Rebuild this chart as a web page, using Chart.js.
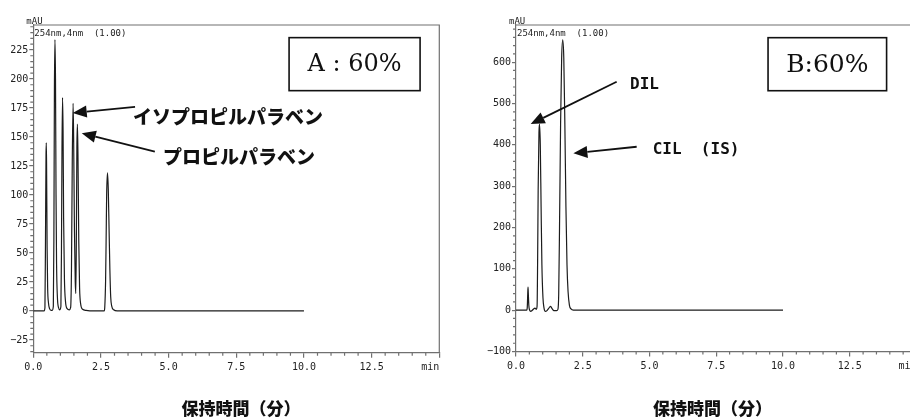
<!DOCTYPE html>
<html>
<head>
<meta charset="utf-8">
<script src="https://cdn.jsdelivr.net/npm/chart.js@4/dist/chart.umd.min.js"></script>
<style>
html, body { margin:0; padding:0; background:#fff; overflow:hidden; width:910px; height:419px; }
canvas { position:absolute; top:0; }
</style>
</head>
<body>
<canvas id="chartA" width="455" height="419" style="left:0"></canvas>
<canvas id="chartB" width="475" height="419" style="left:455px"></canvas>
<script>
// chromatogram A (parabens): time (min) / signal (mAU)
const timeA = [0.00, 0.40, 0.43, 0.45, 0.47, 0.48, 0.49, 0.51, 0.53, 0.56, 0.60, 0.66, 0.70,
  0.74, 0.76, 0.78, 0.80, 0.82, 0.84, 0.86, 0.89, 0.93, 0.98,
  1.02, 1.04, 1.06, 1.08, 1.10, 1.12, 1.15, 1.19, 1.25, 1.33,
  1.38, 1.41, 1.44, 1.47, 1.49, 1.52, 1.55, 1.57, 1.59, 1.61, 1.63, 1.65, 1.68, 1.71, 1.75, 1.82, 1.95, 2.20,
  2.62, 2.64, 2.67, 2.69, 2.71, 2.74, 2.77, 2.80, 2.83, 2.86, 2.90, 2.97, 3.10, 10.00];
const mauA = [0, 0, 3, 60, 135, 145, 128, 55, 20, 7, 2, 0.5, 0.5,
  4, 60, 190, 234, 200, 100, 40, 12, 3, 1,
  4, 50, 140, 184, 155, 80, 28, 8, 2, 1,
  3, 35, 130, 179, 150, 70, 25, 15, 60, 140, 161, 135, 60, 20, 6, 1.5, 0.5, 0,
  0, 3, 25, 60, 100, 119, 105, 70, 35, 12, 4, 1, 0, 0];

// chromatogram B (DIL / CIL)
const timeB = [0.00, 0.40, 0.42, 0.44, 0.45, 0.46, 0.48, 0.51, 0.55, 0.60, 0.66, 0.71, 0.76,
  0.79, 0.81, 0.83, 0.86, 0.88, 0.91, 0.94, 0.97, 1.01, 1.05,
  1.10, 1.16, 1.22, 1.29, 1.35, 1.42, 1.52,
  1.57, 1.60, 1.63, 1.67, 1.71, 1.75, 1.79, 1.83, 1.87, 1.91, 1.95, 2.00, 2.06, 2.15, 10.00];
const mauB = [0, 0, 5, 40, 56, 42, 12, 0, -3, -1, 3, 5, 2,
  10, 120, 290, 430, 450, 400, 250, 110, 30, 5,
  -3, -1, 4, 9, 4, -1, -1,
  2, 40, 200, 450, 610, 654, 610, 450, 250, 110, 45, 12, 3, 0, 0];

const xTicks = [0, 2.5, 5, 7.5, 10, 12.5, 15];
const yTicksA = [-25, 0, 25, 50, 75, 100, 125, 150, 175, 200, 225];
const yTicksB = [-100, 0, 100, 200, 300, 400, 500, 600];

const axisColor = '#707070';
const inkColor = '#1c1c1c';
const mono = '"DejaVu Sans Mono", monospace';
const jp = '"Noto Sans CJK JP", sans-serif';

function toPoints(t, v) {
  return t.map((x, i) => ({ x: x, y: v[i] }));
}

function fmtY(v) {
  return v < 0 ? '\u2212' + Math.abs(v) : String(v);
}

function drawArrow(ctx, x1, y1, x2, y2) {
  const head = 14, wide = 12;
  const ang = Math.atan2(y2 - y1, x2 - x1);
  const bx = x2 - head * Math.cos(ang), by = y2 - head * Math.sin(ang);
  ctx.beginPath();
  ctx.moveTo(x1, y1);
  ctx.lineTo(bx, by);
  ctx.stroke();
  ctx.beginPath();
  ctx.moveTo(x2, y2);
  ctx.lineTo(bx + wide / 2 * Math.sin(ang), by - wide / 2 * Math.cos(ang));
  ctx.lineTo(bx - wide / 2 * Math.sin(ang), by + wide / 2 * Math.cos(ang));
  ctx.closePath();
  ctx.fill();
}

// frame, minor ticks and all the annotation texts
const decorPlugin = {
  id: 'decor',
  afterDraw(chart, args, o) {
    const { ctx, chartArea: a, scales: { x, y } } = chart;
    const X = v => x.getPixelForValue(v), Y = v => y.getPixelForValue(v);
    ctx.save();

    ctx.strokeStyle = axisColor;
    ctx.lineWidth = 1.2;
    ctx.beginPath();
    ctx.moveTo(a.left, a.top);
    ctx.lineTo(a.right, a.top);
    ctx.lineTo(a.right, a.bottom);
    ctx.stroke();

    ctx.beginPath();
    for (let v = 0; v <= 15.001; v += 0.5) {
      if (Math.abs(v / 2.5 - Math.round(v / 2.5)) < 1e-6) continue;
      ctx.moveTo(X(v), a.bottom);
      ctx.lineTo(X(v), a.bottom + 3);
    }
    const start = Math.ceil(y.min / o.yMinor) * o.yMinor;
    for (let v = start; v <= y.max; v += o.yMinor) {
      if (v % o.yMajor === 0) continue;
      ctx.moveTo(a.left, Y(v));
      ctx.lineTo(a.left - 3, Y(v));
    }
    ctx.stroke();

    ctx.fillStyle = '#222';
    ctx.font = '9px ' + mono;
    ctx.textBaseline = 'alphabetic';
    ctx.textAlign = 'left';
    ctx.fillText('mAU', a.left - 7, a.top - 1);
    ctx.fillText('254nm,4nm  (1.00)', a.left + 1, a.top + 11);

    ctx.font = '10px ' + mono;
    ctx.textAlign = 'right';
    ctx.textBaseline = 'middle';
    ctx.fillText('min', X(15), a.bottom + 15);

    // sample box
    const bx0 = X(o.box[0]), bx1 = X(o.box[1]), by0 = Y(o.box[2]), by1 = Y(o.box[3]);
    ctx.strokeStyle = '#111';
    ctx.lineWidth = 1.6;
    ctx.strokeRect(bx0, by0, bx1 - bx0, by1 - by0);
    ctx.fillStyle = '#111';
    ctx.font = o.boxFont;
    ctx.textAlign = 'center';
    ctx.fillText(o.boxText, (bx0 + bx1) / 2, (by0 + by1) / 2 + 1);

    // peak labels and arrows
    ctx.textAlign = 'left';
    o.labels.forEach(l => {
      ctx.font = l.font;
      ctx.fillText(l.text, X(l.at[0]), Y(l.at[1]));
    });
    ctx.strokeStyle = '#111';
    ctx.lineWidth = 1.8;
    o.arrows.forEach(r => drawArrow(ctx, X(r[0]), Y(r[1]), X(r[2]), Y(r[3])));

    ctx.font = '900 17px ' + jp;
    ctx.textAlign = 'center';
    ctx.fillText('保持時間（分）', X(o.titleX), 409);
    ctx.restore();
  }
};

function makeChart(id, points, yMin, yMax, yTicks, pad, axisW, axisH, decor) {
  return new Chart(document.getElementById(id), {
    type: 'line',
    data: {
      datasets: [{
        data: points,
        borderColor: inkColor,
        borderWidth: 1.2,
        pointRadius: 0,
        cubicInterpolationMode: 'monotone',
        fill: false
      }]
    },
    options: {
      responsive: false,
      animation: false,
      layout: { padding: pad },
      plugins: { legend: { display: false }, tooltip: { enabled: false }, decor: decor },
      scales: {
        x: {
          type: 'linear', min: 0, max: 15,
          afterBuildTicks: s => { s.ticks = xTicks.map(v => ({ value: v })); },
          afterFit: s => { s.height = axisH; },
          ticks: {
            autoSkip: false, maxRotation: 0, padding: 4, color: '#222',
            font: { family: mono, size: 10 },
            callback: v => (v === 15 ? '' : v.toFixed(1))
          },
          grid: { drawOnChartArea: false, tickLength: 5, color: axisColor, lineWidth: 1.2 },
          border: { color: axisColor, width: 1.2 }
        },
        y: {
          type: 'linear', min: yMin, max: yMax,
          afterBuildTicks: s => { s.ticks = yTicks.map(v => ({ value: v })); },
          afterFit: s => { s.width = axisW; },
          ticks: {
            autoSkip: false, padding: 1, color: '#222',
            font: { family: mono, size: 10 },
            callback: v => fmtY(v)
          },
          grid: { drawOnChartArea: false, tickLength: 4, color: axisColor, lineWidth: 1.2 },
          border: { color: axisColor, width: 1.2 }
        }
      }
    },
    plugins: [decorPlugin]
  });
}

makeChart('chartA', toPoints(timeA, mauA), -36, 246.5, yTicksA,
  { top: 25, right: 15.7, bottom: 0, left: 0 }, 33.3, 66.3,
  {
    yMinor: 5, yMajor: 25, titleX: 7.67,
    box: [9.45, 14.29, 235.6, 189.9], boxText: 'A : 60%', boxFont: '24px "DejaVu Serif", serif',
    labels: [
      { text: 'イソプロピルパラベン', at: [3.68, 167.2], font: '900 19px ' + jp },
      { text: 'プロピルパラベン', at: [4.79, 132.8], font: '900 19px ' + jp }
    ],
    arrows: [[3.76, 175.9, 1.456, 170.7], [4.49, 137.3, 1.79, 153.2]]
  });

makeChart('chartB', toPoints(timeB, mauB), -100, 690, yTicksB,
  { top: 25, right: 13.5, bottom: 0, left: 0 }, 61, 67.5,
  {
    yMinor: 20, yMajor: 100, titleX: 7.36,
    box: [9.44, 13.88, 659.3, 531], boxText: 'B:60%', boxFont: '25px "DejaVu Serif", serif',
    labels: [
      { text: 'DIL', at: [4.27, 544.8], font: 'bold 16px ' + mono },
      { text: 'CIL  (IS)', at: [5.12, 387.4], font: 'bold 16px ' + mono }
    ],
    arrows: [[3.77, 552.8, 0.55, 450.4], [4.52, 395.4, 2.15, 379.4]]
  });
</script>
</body>
</html>
